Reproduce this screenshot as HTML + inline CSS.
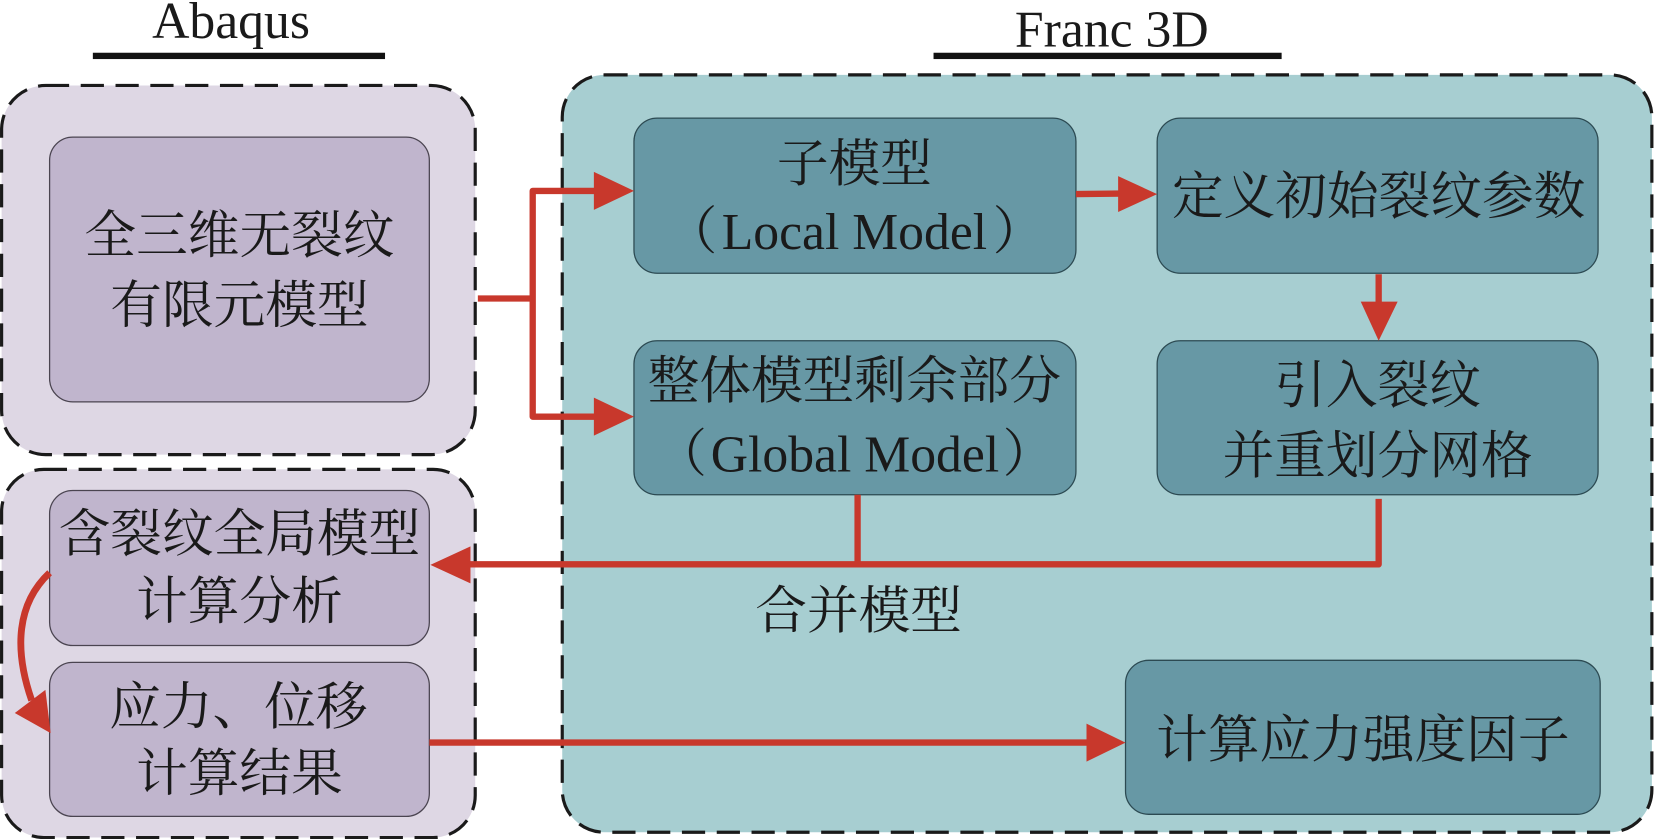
<!DOCTYPE html>
<html lang="zh">
<head>
<meta charset="utf-8">
<style>
html,body{margin:0;padding:0;background:#fff;width:1654px;height:839px;overflow:hidden}
svg{display:block}
text{font-family:"Liberation Serif","Noto Serif CJK SC",serif;font-size:49px;fill:#1a1a1a;text-anchor:middle}
.o{stroke:#1a1a1a;stroke-width:3;stroke-dasharray:22 11}
.p{fill:#c0b5cd;stroke:#4a4450;stroke-width:1.2}
.t{fill:#6798a5;stroke:#2c4a52;stroke-width:1.2}
.r{stroke:#c8382c;stroke-width:6;fill:none;stroke-linejoin:round}
.h{fill:#c8382c}
</style>
</head>
<body>
<svg width="1654" height="839" viewBox="0 0 1568 795.4" xmlns="http://www.w3.org/2000/svg">
<rect width="1568" height="796" fill="#fff"/>
<text x="219" y="36">Abaqus</text>
<rect x="88" y="50" width="277" height="6" fill="#111"/>
<text x="1054" y="44">Franc 3D</text>
<rect x="885" y="50" width="330" height="6" fill="#111"/>

<rect class="o" x="1.500" y="81" width="449" height="350" rx="42" fill="#ded7e4"/>
<rect class="o" x="1.500" y="445" width="449" height="349" rx="40" fill="#ded7e4"/>
<rect class="o" x="533" y="71" width="1033" height="718" rx="40" fill="#a7ced1"/>

<rect class="p" x="47" y="130" width="360" height="251" rx="22"/>
<rect class="p" x="47" y="465" width="360" height="147" rx="22"/>
<rect class="p" x="47" y="628" width="360" height="146" rx="22"/>

<rect class="t" x="601" y="112" width="419" height="147" rx="22"/>
<rect class="t" x="1097" y="112" width="418" height="147" rx="22"/>
<rect class="t" x="601" y="323" width="419" height="146" rx="22"/>
<rect class="t" x="1097" y="323" width="418" height="146" rx="22"/>
<rect class="t" x="1067" y="626" width="450" height="146" rx="22"/>

<path class="r" d="M453 283H505M565 181H505V395H565"/>
<path class="h" d="M601 181L563 163V199Z"/>
<path class="h" d="M601 395L563 377V413Z"/>
<path class="r" d="M1020 184L1064 183.500"/>
<path class="h" d="M1097 184L1060 167V201Z"/>
<path class="r" d="M1307 260V292"/>
<path class="h" d="M1307 323L1290 286H1325Z"/>
<path class="r" d="M813 469V535M1307 473V535H436"/>
<path class="h" d="M408 535.500L446 518V553Z"/>
<path class="r" style="stroke-width:6.500" d="M47 543C16 572 13 615 30 664"/>
<path class="h" d="M48 695L14 676L43 654Z"/>
<path class="r" d="M407 704H1032"/>
<path class="h" d="M1067 704L1030 686V722Z"/>

<text x="227" y="240">全三维无裂纹</text>
<text x="227" y="306">有限元模型</text>
<text x="227" y="523">含裂纹全局模型</text>
<text x="227" y="587">计算分析</text>
<text x="226" y="687">应力、位移</text>
<text x="227" y="750">计算结果</text>
<text x="810" y="172">子模型</text>
<text x="655.500" y="236">（</text><text x="810" y="236">Local Model</text><text x="965.500" y="236">）</text>
<text x="1307" y="203">定义初始裂纹参数</text>
<text x="810" y="378">整体模型剩余部分</text>
<text x="645.700" y="447">（</text><text x="810.500" y="447">Global Model</text><text x="975" y="447">）</text>
<text x="1306" y="382">引入裂纹</text>
<text x="1306" y="449">并重划分网格</text>
<text x="814" y="596">合并模型</text>
<text x="1292" y="718">计算应力强度因子</text>
</svg>
</body>
</html>
